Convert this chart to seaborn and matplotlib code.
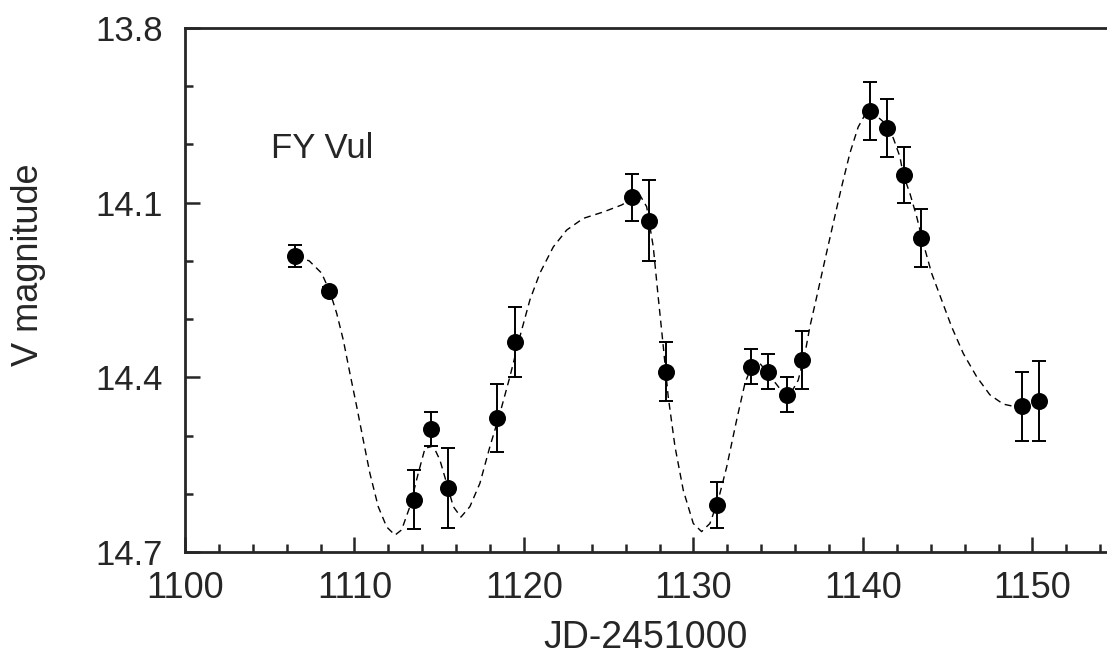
import matplotlib
matplotlib.use("Agg")
import matplotlib.pyplot as plt
import seaborn as sns
import pandas as pd

# observed V magnitudes of FY Vul
jd = [1106.5, 1108.5, 1113.5, 1114.5, 1115.5, 1118.4, 1119.5, 1126.4, 1127.4,
      1128.4, 1131.4, 1133.4, 1134.4, 1135.5, 1136.4, 1140.4, 1141.4, 1142.4,
      1143.4, 1149.4, 1150.4]
vmag = [14.192, 14.251, 14.610, 14.489, 14.590, 14.470, 14.339, 14.091, 14.131,
        14.390, 14.619, 14.382, 14.390, 14.430, 14.370, 13.943, 13.972, 14.052,
        14.161, 14.450, 14.441]
verr = [0.019, 0.007, 0.050, 0.029, 0.069, 0.059, 0.060, 0.040, 0.070,
        0.050, 0.040, 0.030, 0.030, 0.030, 0.050, 0.050, 0.050, 0.048,
        0.050, 0.060, 0.069]

# dashed fit curve
fit_jd = [1106.55, 1107.33, 1108.06, 1108.55, 1108.95, 1109.34, 1109.73, 1110.13,
          1110.52, 1110.91, 1111.40, 1111.90, 1112.39, 1112.78, 1113.27, 1113.76,
          1114.16, 1114.65, 1115.04, 1115.44, 1115.83, 1116.28, 1116.81, 1117.40,
          1117.99, 1118.58, 1119.17, 1119.76, 1120.35, 1120.94, 1121.73, 1122.52,
          1123.50, 1124.68, 1125.76, 1126.41, 1126.84, 1127.24, 1127.63, 1127.92,
          1128.22, 1128.51, 1128.91, 1129.40, 1129.99, 1130.48, 1130.97, 1131.46,
          1131.96, 1132.55, 1133.04, 1133.43, 1133.92, 1134.71, 1135.30, 1135.69,
          1136.18, 1136.58, 1136.87, 1137.27, 1137.76, 1138.25, 1138.74, 1139.23,
          1139.72, 1140.12, 1140.41, 1141.20, 1141.79, 1142.18, 1142.38, 1142.77,
          1143.17, 1143.56, 1144.05, 1144.64, 1145.23, 1145.92, 1146.71, 1147.49,
          1148.28, 1149.07, 1149.46]
fit_mag = [14.192, 14.200, 14.221, 14.253, 14.290, 14.336, 14.393, 14.450,
           14.508, 14.565, 14.622, 14.657, 14.671, 14.662, 14.622, 14.565,
           14.522, 14.518, 14.542, 14.582, 14.622, 14.640, 14.622, 14.582,
           14.519, 14.462, 14.399, 14.330, 14.267, 14.221, 14.176, 14.147,
           14.127, 14.116, 14.104, 14.093, 14.087, 14.107, 14.176, 14.262,
           14.347, 14.433, 14.519, 14.594, 14.651, 14.665, 14.651, 14.611,
           14.554, 14.473, 14.410, 14.381, 14.376, 14.405, 14.427, 14.430,
           14.405, 14.359, 14.313, 14.262, 14.198, 14.135, 14.073, 14.015,
           13.970, 13.949, 13.941, 13.961, 13.989, 14.021, 14.052, 14.084,
           14.124, 14.170, 14.221, 14.267, 14.313, 14.359, 14.399, 14.430,
           14.446, 14.451, 14.451]

xticks = [1100, 1110, 1120, 1130, 1140, 1150]
yticks = [13.8, 14.1, 14.4, 14.7]

sns.set_style("ticks")
plt.rcParams['font.family'] = ['Liberation Sans', 'DejaVu Sans']
plt.rcParams['xtick.direction'] = 'in'
plt.rcParams['ytick.direction'] = 'in'

obs = pd.DataFrame({"jd": jd, "vmag": vmag, "err": verr})
fit = pd.DataFrame({"jd": fit_jd, "vmag": fit_mag})

fig = plt.figure(figsize=(11.07, 6.63), dpi=100)
ax = fig.add_axes([185 / 1107, 1 - 552 / 663, 1 - 185 / 1107, (552 - 28) / 663])

sns.lineplot(data=fit, x="jd", y="vmag", ax=ax, sort=False, estimator=None,
             color="black", linewidth=1.0, dashes=False, linestyle=(0, (5, 3.5)))
ax.errorbar(obs["jd"], obs["vmag"], yerr=obs["err"], fmt="none", ecolor="black",
            elinewidth=1.4, capsize=5.3, capthick=1.4, zorder=3)
sns.scatterplot(data=obs, x="jd", y="vmag", ax=ax, color="black", s=150,
                edgecolor="black", linewidth=0, zorder=4)

ax.text(1105.07, 14.023, "FY Vul", fontsize=25, va="baseline", ha="left")

ax.set_xlim(1100, 1154.4)
ax.set_ylim(14.7, 13.8)
ax.set_xticks(xticks)
ax.set_xticks(range(1102, 1155, 2), minor=True)
ax.set_yticks(yticks)
ax.set_yticks([13.9, 14.0, 14.2, 14.3, 14.5, 14.6], minor=True)
ax.set_yticklabels([f"{t:.1f}" for t in yticks])

ax.tick_params(which="major", direction="in", length=11, width=1.8)
ax.tick_params(which="minor", direction="in", length=5.5, width=1.8)
ax.tick_params(axis="x", which="major", labelsize=26, pad=14)
ax.tick_params(axis="y", which="major", labelsize=25, pad=16)

for side in ["left", "bottom", "top"]:
    ax.spines[side].set_linewidth(2.0)
ax.spines["right"].set_visible(False)

ax.set_xlabel("JD-2451000", fontsize=27, labelpad=10)
ax.set_ylabel("V magnitude", fontsize=26)
ax.yaxis.set_label_coords(-0.151, 0.548)

fig.savefig("out.png", dpi=100)
